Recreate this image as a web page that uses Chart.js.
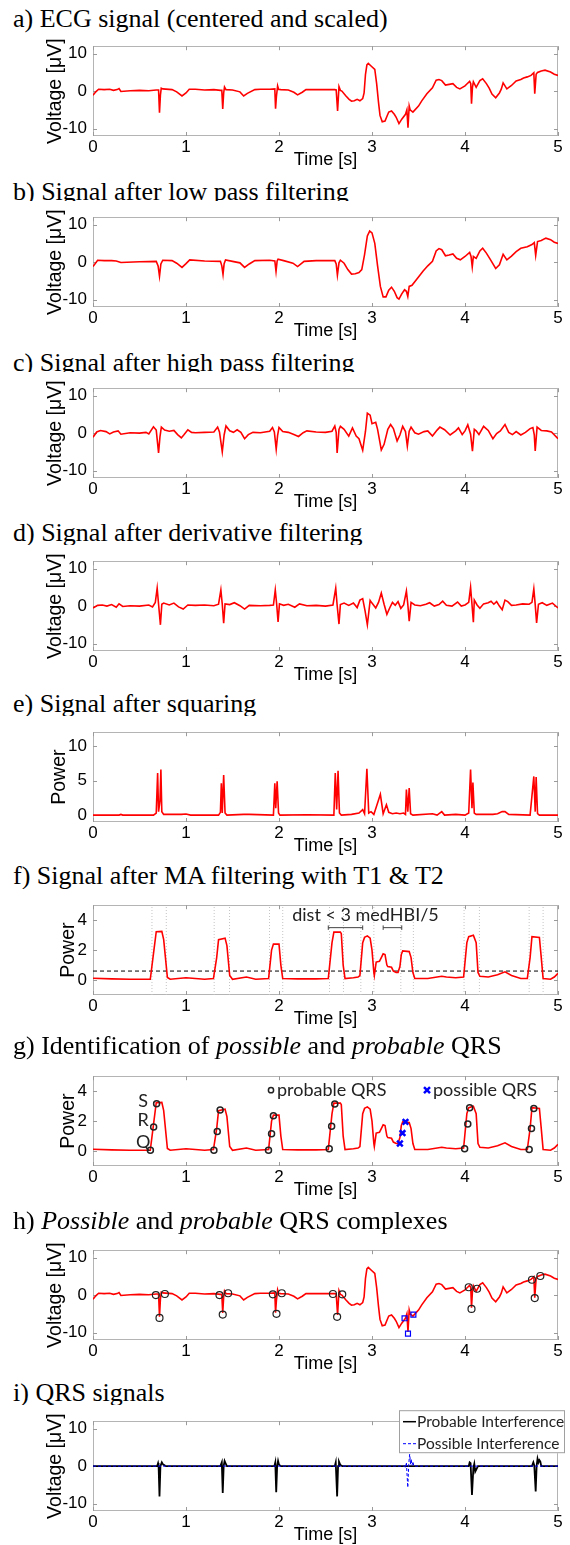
<!DOCTYPE html>
<html>
<head>
<meta charset="utf-8">
<script src="https://cdn.jsdelivr.net/npm/chart.js@4.4.0/dist/chart.umd.min.js"></script>
<style>
body { margin: 0; background: #fff; }
#page { position: relative; width: 570px; height: 1545px; overflow: hidden; background: #fff; }
.ttl { position: absolute; left: 13px; font-family: 'Liberation Serif', 'Times New Roman', serif; font-size: 26px; line-height: 26px; color: #000; white-space: nowrap; }
.box { position: absolute; left: 0; width: 570px; height: 144px; }
.box.cut { background: #fff; }
canvas { display: block; }
</style>
</head>
<body>
<div id="page"></div>
<script>
// ---- data ----
const xTicks = [0, 1, 2, 3, 4, 5];
const yTicksV = [-10, 0, 10];
const yTicksE = [0, 5, 10];
const yTicksF = [0, 2, 4];

// a) raw ECG (also used in h)
const tA = [0,0.03,0.06,0.12,0.18,0.22,0.26,0.28,0.3,0.4,0.5,0.6,0.68,0.705,0.715,0.725,0.734,0.75,0.85,0.9,0.957,1.0,1.035,1.1,1.2,1.3,1.37,1.385,1.395,1.405,1.414,1.43,1.5,1.58,1.62,1.66,1.74,1.8,1.9,1.955,1.963,1.972,1.985,1.995,2.02,2.1,2.16,2.2,2.25,2.29,2.4,2.5,2.6,2.615,2.63,2.645,2.66,2.676,2.72,2.754,2.78,2.81,2.84,2.87,2.9,2.915,2.93,2.945,2.96,2.99,3.03,3.05,3.07,3.086,3.11,3.14,3.16,3.18,3.21,3.24,3.26,3.29,3.32,3.36,3.375,3.387,3.4,3.41,3.44,3.5,3.535,3.59,3.65,3.69,3.72,3.75,3.79,3.83,3.87,3.91,3.945,4.0,4.02,4.05,4.062,4.07,4.08,4.09,4.12,4.16,4.19,4.23,4.26,4.29,4.33,4.37,4.39,4.41,4.45,4.5,4.55,4.6,4.63,4.67,4.71,4.74,4.75,4.765,4.78,4.82,4.86,4.92,4.96,5.0];
const vA = [-1.1,-0.2,0.5,0.4,0.5,0.2,0.4,0.7,-0.1,0.1,0.2,0.1,0.3,0.3,-5.8,-1.0,0.8,0.6,0.4,-0.2,-1.3,-0.5,0.5,0.5,0.3,0.4,0.2,0.2,-4.8,-0.5,1.1,0.4,0.3,-0.2,-1.3,-0.6,0.4,0.5,0.5,0.6,-4.7,-1.5,1.4,0.5,0.4,0.3,-0.3,-1.0,-0.3,0.4,0.4,0.4,0.4,0.3,-5.3,1.2,0.2,0.0,-1.3,-2.2,-2.7,-2.6,-2.2,-2.6,-2.0,-0.5,4.5,7.0,7.4,6.7,5.8,2.0,-3.0,-6.5,-8.2,-8.0,-6.8,-5.6,-5.3,-6.2,-7.0,-8.7,-7.5,-6.2,-5.0,-9.8,-4.0,-5.0,-5.6,-4.0,-2.6,-0.7,0.9,2.9,3.1,2.8,1.6,1.8,2.0,1.0,0.6,1.4,1.9,2.6,2.0,-3.4,1.0,2.5,1.0,2.8,3.3,2.0,0.8,-0.8,-1.8,-0.5,0.5,2.2,0.6,1.5,2.7,3.1,3.5,3.8,4.2,4.9,-0.7,4.5,5.0,5.4,5.6,5.1,4.5,4.2];

// b) after low pass
const tB = [0,0.05,0.12,0.2,0.25,0.3,0.5,0.68,0.7,0.715,0.73,0.75,0.85,0.9,0.957,1.0,1.04,1.2,1.37,1.385,1.398,1.41,1.425,1.5,1.58,1.63,1.68,1.74,1.9,1.955,1.968,1.98,1.99,2.05,2.15,2.2,2.27,2.4,2.6,2.615,2.628,2.645,2.66,2.7,2.74,2.78,2.82,2.86,2.89,2.92,2.95,2.975,3.0,3.03,3.06,3.09,3.12,3.15,3.18,3.21,3.24,3.27,3.29,3.32,3.35,3.37,3.385,3.4,3.43,3.5,3.55,3.6,3.65,3.69,3.72,3.75,3.79,3.83,3.87,3.91,3.95,4.0,4.05,4.065,4.078,4.09,4.12,4.16,4.19,4.23,4.27,4.33,4.37,4.41,4.45,4.5,4.55,4.6,4.67,4.72,4.745,4.76,4.78,4.82,4.87,4.92,4.96,5.0];
const vB = [-1.2,0.5,0.4,0.4,0.3,-0.1,0.1,0.2,-1.0,-3.8,-0.5,0.5,0.4,-0.3,-1.4,-0.4,0.6,0.3,0.2,-1.0,-3.3,-0.4,0.6,0.2,-0.2,-1.4,-0.5,0.4,0.5,0.3,-2.5,0.3,0.8,0.4,-0.3,-1.2,0.2,0.4,0.4,-0.5,-3.5,-0.2,0.5,-0.3,-2.0,-3.2,-3.1,-2.8,-2.0,2.0,7.0,8.3,7.8,5.0,-1.0,-6.5,-9.3,-9.3,-7.5,-6.7,-7.8,-9.5,-9.9,-8.5,-7.4,-7.8,-9.2,-6.5,-6.2,-4.0,-2.4,-1.0,0.2,3.0,3.6,3.3,1.7,1.9,2.2,1.0,0.6,1.5,2.6,1.5,-1.3,1.5,1.0,3.0,3.7,2.4,0.8,-1.7,-0.7,2.1,0.6,1.6,2.8,3.7,4.1,4.7,5.2,1.8,5.5,5.8,6.4,6.0,5.3,5.0];

// c) after high pass
const tC = [0,0.04,0.08,0.14,0.18,0.22,0.27,0.3,0.4,0.5,0.57,0.6,0.65,0.68,0.705,0.72,0.735,0.77,0.82,0.87,0.91,0.95,0.98,1.02,1.06,1.1,1.2,1.3,1.34,1.36,1.39,1.41,1.43,1.47,1.51,1.55,1.59,1.63,1.67,1.72,1.8,1.9,1.93,1.95,1.97,1.985,2.0,2.04,2.1,2.16,2.21,2.26,2.3,2.4,2.5,2.57,2.6,2.615,2.625,2.645,2.66,2.7,2.75,2.79,2.83,2.86,2.9,2.93,2.95,2.98,3.0,3.04,3.06,3.1,3.13,3.17,3.2,3.23,3.27,3.3,3.33,3.36,3.38,3.4,3.42,3.46,3.5,3.56,3.6,3.65,3.7,3.73,3.78,3.84,3.9,3.93,3.97,4.0,4.03,4.06,4.08,4.1,4.12,4.15,4.2,4.25,4.3,4.34,4.38,4.43,4.47,4.51,4.55,4.6,4.65,4.7,4.73,4.745,4.755,4.775,4.82,4.88,4.93,5.0];
const vC = [-1.1,0.3,0.7,0.4,-0.2,0.3,0.6,-0.3,0.1,0.0,0.2,-0.2,1.7,0.8,-5.3,-1.0,1.6,0.8,0.5,0.7,-0.4,-1.3,-0.4,0.9,0.2,0.1,0.2,0.3,1.6,0.3,-5.0,-0.5,1.9,0.6,0.2,0.9,0.2,-1.5,-0.4,0.2,0.1,0.5,1.5,0.3,-4.3,-0.6,1.5,0.4,0.2,-0.4,-0.9,0.1,0.6,0.3,0.2,0.5,1.9,0.2,-5.3,1.0,1.8,1.0,-0.8,1.4,-0.8,-1.5,-4.6,0.5,5.3,4.8,2.5,2.9,1.0,-4.5,-3.0,1.0,2.3,1.2,-2.1,-0.5,1.8,0.4,-3.5,0.5,1.6,0.1,-0.3,0.4,0.6,-0.8,0.8,1.6,0.9,-0.5,0.6,1.4,-0.4,0.6,2.2,-0.3,-4.8,1.0,0.6,-0.4,1.8,0.7,-1.5,-0.1,0.6,2.3,0.2,-0.4,0.4,-0.5,0.2,1.2,1.5,-0.5,-4.8,1.6,0.7,0.6,0.3,-1.5];

// d) after derivative
const tD = [0,0.05,0.1,0.15,0.2,0.25,0.28,0.32,0.4,0.5,0.6,0.64,0.67,0.69,0.705,0.725,0.74,0.76,0.82,0.87,0.92,0.97,1.02,1.1,1.2,1.3,1.35,1.375,1.39,1.405,1.42,1.47,1.52,1.58,1.63,1.68,1.8,1.9,1.94,1.96,1.975,1.99,2.005,2.05,2.1,2.17,2.22,2.3,2.4,2.5,2.58,2.61,2.625,2.645,2.66,2.7,2.75,2.8,2.84,2.87,2.9,2.925,2.95,2.98,3.0,3.04,3.07,3.1,3.13,3.16,3.19,3.22,3.25,3.28,3.31,3.34,3.37,3.385,3.4,3.42,3.46,3.52,3.58,3.62,3.67,3.72,3.76,3.8,3.86,3.92,3.96,4.0,4.04,4.06,4.075,4.09,4.1,4.13,4.16,4.2,4.25,4.28,4.31,4.34,4.37,4.4,4.43,4.46,4.5,4.55,4.62,4.69,4.72,4.74,4.755,4.77,4.79,4.83,4.88,4.94,5.0];
const vD = [-0.5,0.2,0.3,0.0,0.4,-0.3,0.6,-0.1,0.1,0.0,0.3,-0.2,1.0,4.8,0.5,-5.0,0.5,0.8,0.3,0.8,-0.2,-0.8,0.3,0.2,0.3,0.1,0.5,4.3,0.5,-4.6,0.6,0.4,0.9,0.1,-0.8,0.2,0.1,0.2,0.3,4.3,0.5,-4.2,0.6,0.2,0.5,-0.3,0.6,0.1,0.2,0.0,0.3,4.8,0.3,-4.8,0.4,0.8,0.2,0.8,-0.4,1.6,2.0,-1.2,-5.0,1.5,0.8,-0.5,1.0,3.5,0.5,-2.2,-0.5,1.0,0.2,1.2,-0.6,0.3,4.0,0.5,-4.0,1.0,0.3,0.1,0.5,0.9,0.0,0.4,1.3,0.2,0.0,1.1,0.0,0.3,1.0,5.0,0.5,-4.3,1.6,0.3,-0.6,0.6,0.9,1.3,0.5,1.2,0.0,-1.0,1.6,1.2,0.2,0.3,0.6,0.5,1.0,4.6,0.4,-4.5,0.5,0.9,0.2,0.8,-0.5];

// e) after squaring
const tE = [0,0.28,0.3,0.32,0.65,0.68,0.695,0.705,0.72,0.73,0.74,0.76,0.95,1.0,1.05,1.35,1.37,1.38,1.39,1.405,1.42,1.44,1.62,1.68,1.94,1.955,1.965,1.98,1.995,2.01,2.3,2.59,2.605,2.62,2.635,2.65,2.67,2.78,2.86,2.9,2.92,2.945,2.965,2.99,3.02,3.09,3.12,3.155,3.18,3.22,3.26,3.3,3.34,3.36,3.37,3.385,3.4,3.415,3.44,3.65,3.7,3.75,3.78,3.9,4.0,4.04,4.06,4.075,4.085,4.1,4.12,4.3,4.35,4.4,4.43,4.47,4.7,4.74,4.755,4.765,4.78,4.8,5.0];
const vE = [0.0,0.0,0.1,0.0,0.0,0.3,6.1,0.5,2.0,6.6,0.5,0.1,0.1,0.15,0.0,0.0,0.4,4.6,0.3,5.8,0.3,0.0,0.1,0.1,0.0,4.6,1.0,4.9,0.3,0.0,0.05,0.0,6.1,0.8,6.4,0.3,0.0,0.1,0.3,0.8,0.2,6.7,0.3,0.5,0.1,3.0,0.2,1.5,0.4,0.2,0.3,0.2,0.3,0.1,3.7,0.5,3.9,0.2,0.0,0.2,0.0,0.5,0.0,0.1,0.0,0.3,6.6,1.0,4.7,0.3,0.1,0.1,0.2,0.5,0.5,0.1,0.0,5.6,0.5,5.5,0.2,0.0,0.0];

// f) after MA filtering (also used in g)
const tF = [0,0.2,0.4,0.616,0.645,0.68,0.74,0.76,0.8,0.83,1.0,1.1,1.2,1.295,1.33,1.35,1.42,1.44,1.47,1.5,1.65,1.75,1.888,1.92,1.94,2.0,2.02,2.04,2.2,2.4,2.53,2.57,2.59,2.66,2.67,2.69,2.71,2.8,2.85,2.87,2.9,2.92,2.95,2.98,3.0,3.02,3.025,3.045,3.08,3.1,3.12,3.14,3.16,3.17,3.21,3.23,3.26,3.28,3.3,3.315,3.33,3.4,3.42,3.44,3.46,3.6,3.75,3.8,3.9,3.985,4.02,4.04,4.09,4.12,4.14,4.16,4.25,4.35,4.43,4.5,4.6,4.67,4.7,4.72,4.8,4.82,4.84,4.92,4.96,5.0];
const vF = [0.12,0.08,0.05,0.05,1.5,3.23,3.25,2.7,0.17,0.05,0.15,0.1,0.05,0.1,1.5,2.7,2.8,2.3,0.3,0.05,0.2,0.05,0.1,2.0,2.4,2.4,1.0,0.1,0.08,0.08,0.1,2.5,3.2,3.2,3.1,1.0,0.1,0.15,0.2,0.3,2.5,2.85,2.95,2.8,2.0,0.5,0.3,1.2,1.25,1.5,1.75,1.7,1.0,0.9,0.85,0.6,0.5,0.5,0.9,1.7,1.95,1.9,1.5,0.5,0.1,0.1,0.25,0.2,0.15,0.2,2.5,2.9,3.0,2.5,0.5,0.25,0.2,0.35,0.55,0.3,0.1,0.1,1.5,2.9,2.85,1.5,0.1,0.05,0.2,0.45];
const thresholdF = 0.6;
const boundsF = [0.634,0.788,1.303,1.468,1.898,2.04,2.543,2.693,2.88,3.02,3.31,3.445,3.99,4.155,4.69,4.84];
const bracketStartF = [2.53, 3.12];
const bracketEndF = [2.90, 3.32];
const bracketLevelF = 3.5;

// g) probable (Q, R, S) and possible QRS points on the MA signal
const probTG = [0.617,0.652,0.684,1.30,1.336,1.367,1.887,1.92,1.94,2.54,2.566,2.60,3.996,4.03,4.05,4.69,4.715,4.74];
const probVG = [0.06,1.6,3.16,0.05,1.3,2.75,0.05,1.15,2.35,0.15,1.65,3.15,0.15,1.8,2.9,0.1,1.5,2.85];
const possTG = [3.30,3.328,3.36];
const possVG = [0.5,1.2,1.95];

// h) QRS onset / peak / offset on the ECG
const probTH = [0.676,0.715,0.773,1.36,1.395,1.453,1.934,1.973,2.03,2.58,2.625,2.68,4.04,4.07,4.13,4.72,4.75,4.81];
const probVH = [0.0,-6.1,0.3,0.0,-5.2,0.5,0.2,-5.0,0.5,0.3,-5.8,0.2,2.1,-3.7,1.7,4.1,-0.8,5.1];
const possTH = [3.35,3.387,3.445];
const possVH = [-6.2,-10.3,-5.2];

// i) extracted QRS signals
const tIprob = [0,0.69,0.70,0.705,0.715,0.725,0.74,0.755,0.77,0.78,1.37,1.385,1.395,1.405,1.415,1.43,1.44,1.95,1.96,1.97,1.98,1.99,2.0,2.02,2.6,2.61,2.625,2.635,2.645,2.66,2.68,4.04,4.05,4.06,4.075,4.09,4.1,4.11,4.13,4.14,4.72,4.735,4.745,4.76,4.77,4.78,4.79,4.8,4.81,4.82,5.0];
const vIprob = [0,0,0.8,0.2,-8.1,0,1.0,0.4,0.2,0,0,1.0,-7.2,0,1.4,0.5,0,0,1.0,-7.0,0,1.4,0.4,0,0,1.0,-8.1,0,1.2,0.3,0,0,1.0,0.8,-7.7,-0.5,0.6,-1.5,-0.5,0,0,1.0,0.2,-6.8,0,2.0,1.0,1.6,1.2,0,0];
const tIposs = [0,3.35,3.36,3.37,3.375,3.385,3.395,3.405,3.415,3.42,3.43,3.44,3.45,5.0];
const vIposs = [0,0,-0.5,1.0,-1.5,-5.7,0.5,3.2,0.5,2.0,0.2,1.2,0,0];

// ---- layout ----
const panelTop = [43, 214, 385, 558, 729, 902, 1073, 1247, 1418];
const titleBase = [28, 201, 372, 542, 713, 885, 1055, 1230, 1402];
const titles = [
  'a) ECG signal (centered and scaled)',
  'b) Signal after low pass filtering',
  'c) Signal after high pass filtering',
  'd) Signal after derivative filtering',
  'e) Signal after squaring',
  'f) Signal after MA filtering with T1 &amp; T2',
  'g) Identification of <i>possible</i> and <i>probable</i> QRS',
  'h) <i>Possible</i> and <i>probable</i> QRS complexes',
  'i) QRS signals'
];
const RED = '#ff0000';
const SANS = "'Liberation Sans', Arial, sans-serif";
const NOTE = "Lato, 'Noto Sans', sans-serif";

function series(t, v) {
  return t.map(function(x, i) { return { x: x, y: v[i] }; });
}

function lineSet(data, color, width, dash) {
  return { data: data, borderColor: color, borderWidth: width, borderDash: dash || [],
    pointRadius: 0, fill: false, tension: 0, spanGaps: false };
}

function markSet(data, style, color, r, w) {
  return { data: data, showLine: false, pointStyle: style, pointRadius: r,
    pointBorderColor: color, pointBackgroundColor: 'rgba(0,0,0,0)', pointBorderWidth: w,
    borderColor: color, backgroundColor: 'rgba(0,0,0,0)' };
}

// matlab style box with inward ticks
const framePlugin = {
  id: 'frame',
  beforeDatasetsDraw: function(chart) {
    const ctx = chart.ctx, a = chart.chartArea, sx = chart.scales.x, sy = chart.scales.y;
    ctx.save();
    ctx.strokeStyle = '#b4b4b4';
    ctx.lineWidth = 1;
    ctx.strokeRect(Math.round(a.left) + 0.5, Math.round(a.top) + 0.5, Math.round(a.width) - 1, Math.round(a.height) - 1);
    ctx.strokeStyle = '#9a9a9a';
    ctx.beginPath();
    sx.ticks.forEach(function(t) {
      const p = Math.round(sx.getPixelForValue(t.value)) + 0.5;
      ctx.moveTo(p, a.bottom); ctx.lineTo(p, a.bottom - 4);
      ctx.moveTo(p, a.top); ctx.lineTo(p, a.top + 4);
    });
    sy.ticks.forEach(function(t) {
      const p = Math.round(sy.getPixelForValue(t.value)) + 0.5;
      ctx.moveTo(a.left, p); ctx.lineTo(a.left + 4, p);
      ctx.moveTo(a.right, p); ctx.lineTo(a.right - 4, p);
    });
    ctx.stroke();
    ctx.restore();
  }
};

function makePanel(i, datasets, yMin, yMax, yTicks, yTitle, yTitlePad, extraDraw) {
  const page = document.getElementById('page');
  const t = document.createElement('div');
  t.className = 'ttl';
  t.style.top = (titleBase[i] - 22) + 'px';
  t.innerHTML = titles[i];
  page.appendChild(t);
  const box = document.createElement('div');
  box.className = 'box' + (i > 0 ? ' cut' : '');
  box.style.top = (panelTop[i] - 13) + 'px';
  const cv = document.createElement('canvas');
  cv.width = 570; cv.height = 144;
  cv.style.width = '570px'; cv.style.height = '144px';
  box.appendChild(cv);
  page.appendChild(box);

  const plugins = [framePlugin];
  if (extraDraw) plugins.push({ id: 'extra' + i, afterDraw: extraDraw });

  return new Chart(cv, {
    type: 'line',
    data: { datasets: datasets },
    options: {
      responsive: false, animation: false, events: [],
      layout: { padding: { top: 13, right: 12, left: 0, bottom: 0 } },
      plugins: { legend: { display: false }, tooltip: { enabled: false } },
      scales: {
        x: {
          type: 'linear', min: 0, max: 5,
          afterBuildTicks: function(s) { s.ticks = xTicks.map(function(v) { return { value: v }; }); },
          afterFit: function(s) { s.height = 38; },
          grid: { display: false, drawTicks: false }, border: { display: false },
          ticks: { padding: 1, color: '#000', maxRotation: 0, font: { family: SANS, size: 17 } },
          title: { display: true, text: 'Time [s]', color: '#000', font: { family: SANS, size: 18 }, padding: { top: 0, bottom: 3 } }
        },
        y: {
          min: yMin, max: yMax,
          afterBuildTicks: function(s) { s.ticks = yTicks.map(function(v) { return { value: v }; }); },
          afterFit: function(s) { s.width = 93; },
          grid: { display: false, drawTicks: false }, border: { display: false },
          ticks: { padding: 6, color: '#000', font: { family: SANS, size: 17 } },
          title: { display: true, text: yTitle, color: '#000', font: { family: SANS, size: 19.5 }, padding: { top: yTitlePad, bottom: 0 } }
        }
      }
    },
    plugins: plugins
  });
}

// f) annotation text and distance brackets
function drawNoteF(chart) {
  const ctx = chart.ctx, sx = chart.scales.x, sy = chart.scales.y;
  ctx.save();
  ctx.fillStyle = '#222';
  ctx.font = '18px ' + NOTE;
  ctx.textAlign = 'center';
  ctx.textBaseline = 'middle';
  ctx.fillText('dist < 3 medHBI/5', sx.getPixelForValue(2.93), sy.getPixelForValue(4.35));
  ctx.restore();
}

// g) S/R/Q letters and in-axes legend
function drawNoteG(chart) {
  const ctx = chart.ctx, sx = chart.scales.x, sy = chart.scales.y, a = chart.chartArea;
  ctx.save();
  ctx.fillStyle = '#222';
  ctx.font = '18px ' + NOTE;
  ctx.textAlign = 'center';
  ctx.textBaseline = 'middle';
  const lx = sx.getPixelForValue(0.54);
  ctx.fillText('S', lx, sy.getPixelForValue(3.35));
  ctx.fillText('R', lx, sy.getPixelForValue(2.05));
  ctx.fillText('Q', lx, sy.getPixelForValue(0.62));
  const ly = a.top + 14;
  ctx.textAlign = 'left';
  ctx.strokeStyle = '#222';
  ctx.lineWidth = 1.5;
  ctx.beginPath();
  ctx.arc(a.left + 178, ly, 2.6, 0, Math.PI * 2);
  ctx.stroke();
  ctx.fillText('probable QRS', a.left + 184, ly);
  ctx.strokeStyle = '#0000ff';
  ctx.lineWidth = 2.5;
  const cx = a.left + 334;
  ctx.beginPath();
  ctx.moveTo(cx - 3, ly - 3); ctx.lineTo(cx + 3, ly + 3);
  ctx.moveTo(cx + 3, ly - 3); ctx.lineTo(cx - 3, ly + 3);
  ctx.stroke();
  ctx.fillText('possible QRS', cx + 6, ly);
  ctx.restore();
}

// i) boxed legend sticking out of the axes
function drawLegendI(chart) {
  const ctx = chart.ctx, a = chart.chartArea;
  const bx = a.right - 159, by = a.top - 11, bw = 166, bh = 43;
  ctx.save();
  ctx.fillStyle = '#fff';
  ctx.fillRect(bx, by, bw, bh);
  ctx.strokeStyle = '#a0a0a0';
  ctx.lineWidth = 1;
  ctx.strokeRect(bx + 0.5, by + 0.5, bw - 1, bh - 1);
  ctx.font = '15.5px ' + NOTE;
  ctx.textBaseline = 'middle';
  ctx.fillStyle = '#222';
  ctx.strokeStyle = '#000';
  ctx.lineWidth = 1.5;
  ctx.beginPath(); ctx.moveTo(bx + 4, by + 11.5); ctx.lineTo(bx + 17, by + 11.5); ctx.stroke();
  ctx.fillText('Probable Interference', bx + 18, by + 12);
  ctx.strokeStyle = '#0000ff';
  ctx.lineWidth = 1;
  ctx.setLineDash([3, 2]);
  ctx.beginPath(); ctx.moveTo(bx + 4, by + 33.5); ctx.lineTo(bx + 17, by + 33.5); ctx.stroke();
  ctx.setLineDash([]);
  ctx.fillText('Possible Interference', bx + 18, by + 34);
  ctx.restore();
}

function boundsData() {
  const out = [];
  boundsF.forEach(function(t) {
    out.push({ x: t, y: -1 }, { x: t, y: 5 }, { x: t, y: null });
  });
  return out;
}

function bracketData() {
  const out = [], c = 0.15;
  bracketStartF.forEach(function(s, k) {
    const e = bracketEndF[k];
    out.push({ x: s, y: bracketLevelF - c }, { x: s, y: bracketLevelF + c }, { x: s, y: null });
    out.push({ x: s, y: bracketLevelF }, { x: e, y: bracketLevelF }, { x: e, y: null });
    out.push({ x: e, y: bracketLevelF - c }, { x: e, y: bracketLevelF + c }, { x: e, y: null });
  });
  return out;
}

const ecg = series(tA, vA);
const ma = series(tF, vF);

makePanel(0, [lineSet(ecg, RED, 1.6)], -12, 12, yTicksV, 'Voltage [\u03bcV]', 44);
makePanel(1, [lineSet(series(tB, vB), RED, 1.6)], -12, 12, yTicksV, 'Voltage [\u03bcV]', 44);
makePanel(2, [lineSet(series(tC, vC), RED, 1.6)], -12, 12, yTicksV, 'Voltage [\u03bcV]', 44);
makePanel(3, [lineSet(series(tD, vD), RED, 1.6)], -12, 12, yTicksV, 'Voltage [\u03bcV]', 44);
makePanel(4, [lineSet(series(tE, vE), RED, 1.6)], -1, 12, yTicksE, 'Power', 48);
makePanel(5, [
  lineSet(ma, RED, 1.6),
  lineSet(bracketData(), '#444', 1),
  lineSet([{ x: 0, y: thresholdF }, { x: 5, y: thresholdF }], '#000', 1, [4, 3]),
  lineSet(boundsData(), '#c4c4c4', 1, [1, 2])
], -1, 5, yTicksF, 'Power', 57, drawNoteF);
makePanel(6, [
  markSet(series(possTG, possVG), 'crossRot', '#0000ff', 4, 2.5),
  markSet(series(probTG, probVG), 'circle', '#222', 3, 1.5),
  lineSet(ma, RED, 1.6)
], -1, 5, yTicksF, 'Power', 57, drawNoteG);
makePanel(7, [
  markSet(series(possTH, possVH), 'rect', '#0000ff', 3.5, 1.2),
  markSet(series(probTH, probVH), 'circle', '#222', 3.5, 1.2),
  lineSet(ecg, RED, 1.6)
], -12, 12, yTicksV, 'Voltage [\u03bcV]', 44);
makePanel(8, [
  lineSet(series(tIposs, vIposs), '#0000ff', 1, [3, 2]),
  lineSet(series(tIprob, vIprob), '#000', 1.8)
], -12, 12, yTicksV, 'Voltage [\u03bcV]', 44, drawLegendI);
</script>
</body>
</html>
